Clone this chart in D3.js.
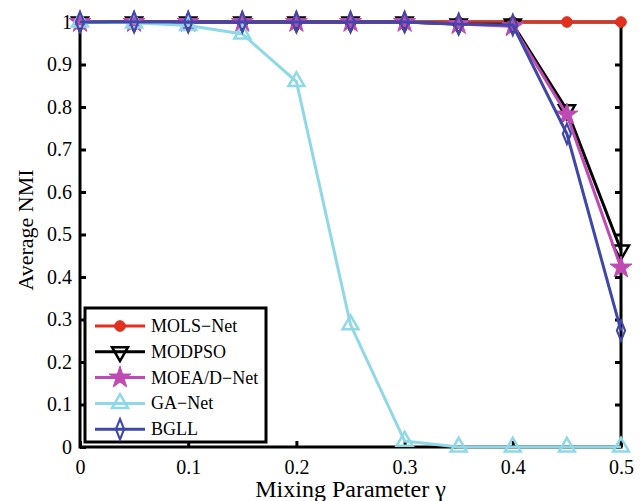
<!DOCTYPE html>
<html>
<head>
<meta charset="utf-8">
<script src="https://cdn.jsdelivr.net/npm/d3@7"></script>
<style>
  body { margin: 0; background: #fff; }
</style>
</head>
<body>
<svg id="chart" width="642" height="501"></svg>
<script>
// mixing parameter values
const gammas = [0, 0.05, 0.1, 0.15, 0.2, 0.25, 0.3, 0.35, 0.4, 0.45, 0.5];
const molsNet = [1, 1, 1, 1, 1, 1, 1, 1, 1, 1, 1];
const modpso = [1, 1, 1, 1, 1, 1, 1, 0.995, 0.995, 0.793, 0.463];
const moeadNet = [1, 1, 1, 1, 1, 1, 1, 0.995, 0.99, 0.782, 0.422];
const gaNet = [1, 0.998, 0.992, 0.972, 0.86, 0.288, 0.014, 0, 0, 0, 0];
const bgll = [1, 1, 1, 1, 1, 1, 1, 0.995, 0.993, 0.737, 0.274];
const xTicks = [0, 0.1, 0.2, 0.3, 0.4, 0.5];
const yTicks = [0, 0.1, 0.2, 0.3, 0.4, 0.5, 0.6, 0.7, 0.8, 0.9, 1];

const FONT = '"Liberation Serif", "Times New Roman", serif';

const series = [
  { name: "MOLS\u2212Net", vals: molsNet, color: "#e0301e", shape: "circle" },
  { name: "MODPSO", vals: modpso, color: "#000000", shape: "down" },
  { name: "MOEA/D\u2212Net", vals: moeadNet, color: "#c04ab4", shape: "star" },
  { name: "GA\u2212Net", vals: gaNet, color: "#8fd8e8", shape: "up" },
  { name: "BGLL", vals: bgll, color: "#3f48a8", shape: "diamond" }
];

const svg = d3.select("#chart");
const L = 80, R = 621, T = 22, B = 447;
const x = d3.scaleLinear().domain([0, 0.5]).range([L, R]);
const y = d3.scaleLinear().domain([0, 1]).range([B, T]);

// ticks inward, all four sides
const g = svg.append("g");
g.append("g").attr("transform", `translate(0,${B})`)
  .call(d3.axisBottom(x).tickValues(xTicks).tickSizeInner(-6).tickSizeOuter(0).tickPadding(13).tickFormat(d3.format("")))
  .call(a => a.select(".domain").remove());
g.append("g").attr("transform", `translate(${L},0)`)
  .call(d3.axisLeft(y).tickValues(yTicks).tickSizeInner(-6).tickSizeOuter(0).tickPadding(8).tickFormat(d3.format("")))
  .call(a => a.select(".domain").remove());
g.append("g").attr("transform", `translate(${R},0)`)
  .call(d3.axisRight(y).tickValues(yTicks).tickSizeInner(-6).tickSizeOuter(0).tickFormat(""))
  .call(a => a.select(".domain").remove());
g.append("g").attr("transform", `translate(0,${T})`)
  .call(d3.axisTop(x).tickValues(xTicks).tickSizeInner(-6).tickSizeOuter(0).tickFormat(""))
  .call(a => a.select(".domain").remove());
g.selectAll("g g").attr("font-family", FONT);
g.selectAll(".tick line").attr("stroke", "#000").attr("stroke-width", 3);
g.selectAll(".tick text").attr("font-size", 20).attr("fill", "#000").attr("font-family", FONT);

svg.append("rect").attr("x", L).attr("y", T).attr("width", R - L).attr("height", B - T)
  .attr("fill", "none").attr("stroke", "#000").attr("stroke-width", 3);

const sym = {
  circle: d3.symbol(d3.symbolCircle, 90),
  down: d3.symbol(d3.symbolTriangle, 110),
  up: d3.symbol(d3.symbolTriangle, 110),
  star: d3.symbol(d3.symbolStar, 150),
  diamond: d3.symbol(d3.symbolDiamond, 90)
};
function marker(sel, s) {
  const p = sel.append("path").attr("d", sym[s.shape]());
  if (s.shape === "circle" || s.shape === "star") {
    p.attr("fill", s.color).attr("stroke", s.color).attr("stroke-width", 1);
  } else {
    p.attr("fill", "none").attr("stroke", s.color).attr("stroke-width", 2.5);
  }
  if (s.shape === "down") p.attr("transform", "rotate(180)");
  if (s.shape === "diamond") p.attr("transform", "scale(0.8,1.15)");
  return p;
}

const line = d3.line().x((d, i) => x(gammas[i])).y(d => y(d));
series.forEach(s => {
  const sg = svg.append("g");
  sg.append("path").datum(s.vals).attr("d", line)
    .attr("fill", "none").attr("stroke", s.color).attr("stroke-width", 3);
  s.vals.forEach((v, i) => {
    const mg = sg.append("g").attr("transform", `translate(${x(gammas[i])},${y(v)})`);
    marker(mg, s);
  });
});

// legend
const lg = svg.append("g").attr("transform", "translate(85,308)");
lg.append("rect").attr("width", 181).attr("height", 134)
  .attr("fill", "#fff").attr("stroke", "#000").attr("stroke-width", 3);
series.forEach((s, i) => {
  const yy = 18 + i * 25.8;
  lg.append("line").attr("x1", 10).attr("x2", 60).attr("y1", yy).attr("y2", yy)
    .attr("stroke", s.color).attr("stroke-width", 3);
  const mg = lg.append("g").attr("transform", `translate(35,${yy})`);
  marker(mg, s);
  lg.append("text").attr("x", 66).attr("y", yy + 6).attr("font-size", 18)
    .attr("font-family", FONT).text(s.name);
});

svg.append("text").attr("x", (L + R) / 2).attr("y", 497).attr("text-anchor", "middle")
  .attr("font-family", FONT).attr("font-size", 24).text("Mixing Parameter \u03b3");
svg.append("text").attr("transform", `translate(33,230) rotate(-90)`)
  .attr("text-anchor", "middle").attr("font-family", FONT).attr("font-size", 22).text("Average NMI");
</script>
</body>
</html>
